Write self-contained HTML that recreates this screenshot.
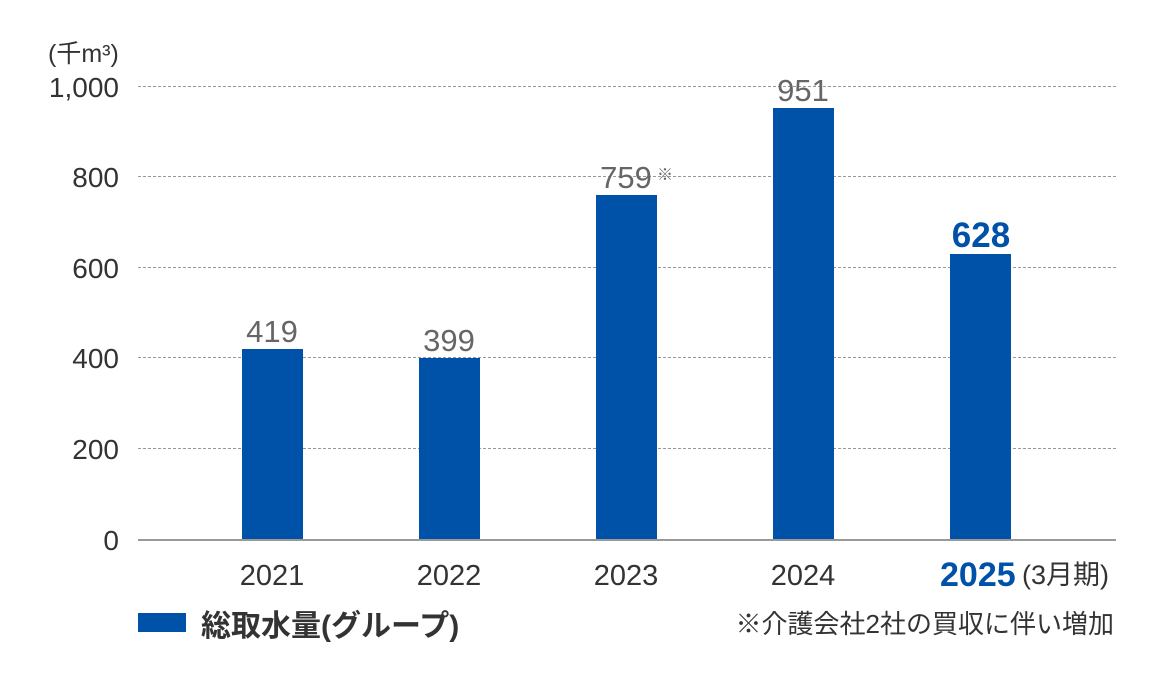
<!DOCTYPE html>
<html><head><meta charset="utf-8"><style>
html,body{margin:0;padding:0;background:#fff;}
svg{display:block;font-family:"Liberation Sans","Noto Sans CJK JP",sans-serif;}
</style></head><body>
<svg width="1164" height="679" viewBox="0 0 1164 679" xmlns="http://www.w3.org/2000/svg">
<g stroke="#999" stroke-width="1" stroke-dasharray="3,2">
<line x1="138" y1="86.5" x2="1116" y2="86.5"/>
<line x1="138" y1="176.5" x2="1116" y2="176.5"/>
<line x1="138" y1="267.5" x2="1116" y2="267.5"/>
<line x1="138" y1="357.5" x2="1116" y2="357.5"/>
<line x1="138" y1="448.5" x2="1116" y2="448.5"/>
</g>
<g fill="#333" font-size="28" text-anchor="end">
<text x="119" y="97">1,000</text>
<text x="119" y="187">800</text>
<text x="119" y="278">600</text>
<text x="119" y="368">400</text>
<text x="119" y="459">200</text>
<text x="119" y="550">0</text>
</g>
<text x="48" y="62" fill="#333" font-size="25">(千m³)</text>
<g fill="#0051a8">
<rect x="242" y="349" width="61" height="190"/>
<rect x="419" y="358" width="61" height="181"/>
<rect x="596" y="195" width="61" height="344"/>
<rect x="773" y="108" width="61" height="431"/>
<rect x="950" y="254" width="61" height="285"/>
</g>
<line x1="138" y1="540" x2="1116" y2="540" stroke="#999" stroke-width="2"/>
<g fill="#666" font-size="31" text-anchor="middle">
<text x="272" y="342">419</text>
<text x="449" y="351">399</text>
<text x="626" y="188">759</text>
<text x="803" y="101">951</text>
</g>
<text x="657" y="180" fill="#666" font-size="16">※</text>
<text x="981" y="247" fill="#0051a8" font-size="35" font-weight="bold" text-anchor="middle">628</text>
<g fill="#333" font-size="29" text-anchor="middle">
<text x="272" y="585">2021</text>
<text x="449" y="585">2022</text>
<text x="626" y="585">2023</text>
<text x="803" y="585">2024</text>
</g>
<text x="940" y="586" fill="#0051a8" font-size="34" font-weight="bold">2025</text>
<text x="1022" y="584" fill="#333" font-size="27">(3月期)</text>
<rect x="138" y="613" width="48" height="19" fill="#0051a8"/>
<text x="201" y="636" fill="#333" font-size="30" font-weight="bold">総取水量(グループ)</text>
<text x="1114" y="633" fill="#333" font-size="26" text-anchor="end">※介護会社2社の買収に伴い増加</text>
</svg>
</body></html>
